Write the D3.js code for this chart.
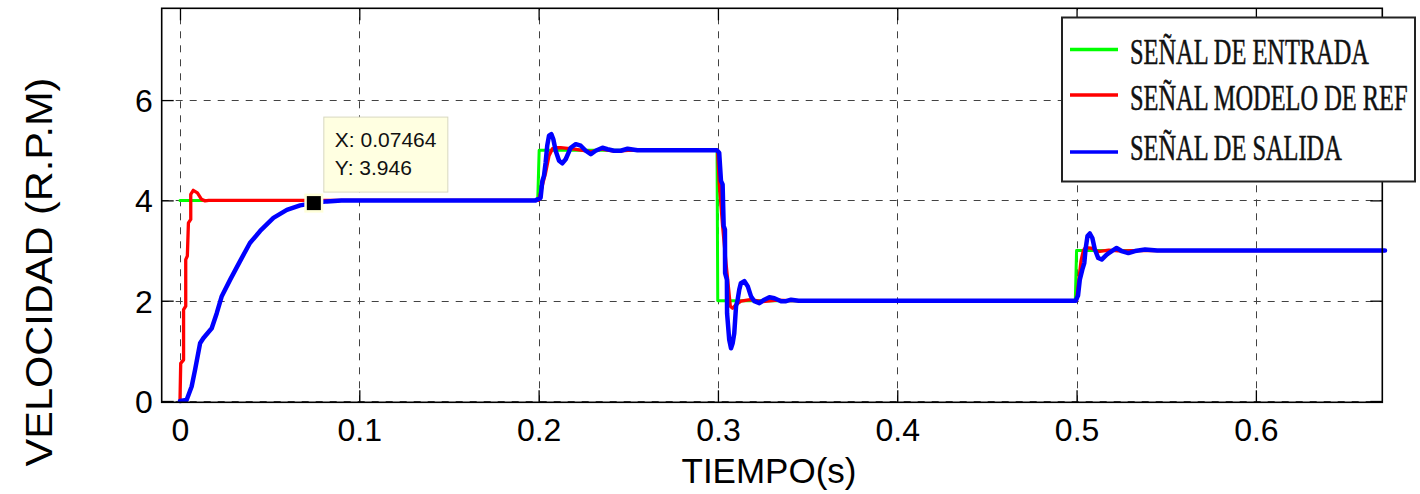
<!DOCTYPE html>
<html>
<head>
<meta charset="utf-8">
<script src="https://cdn.jsdelivr.net/npm/d3@7"></script>
<style>
  html, body { margin: 0; padding: 0; background: #fff; }
  svg { display: block; }
</style>
</head>
<body>
<svg id="chart" width="1420" height="494"></svg>
<script>
// Step response of the MRAC speed loop: input, reference model and plant output
const inputSignal = [
  [0, 4], [0.1995, 4], [0.2003, 5], [0.2995, 5], [0.2999, 2],
  [0.4993, 2], [0.5, 3], [0.672, 3]
];
const referenceSignal = [
  [0, 0], [0.0004, 0.75], [0.002, 0.82], [0.002, 1.82], [0.0032, 1.89], [0.0032, 2.82],
  [0.0041, 2.89], [0.0047, 3.55], [0.006, 3.62], [0.006, 4.12], [0.0074, 4.2], [0.0097, 4.15],
  [0.012, 4.02], [0.014, 3.99], [0.016, 4.0],
  [0.2, 4.0], [0.202, 4.29], [0.2039, 4.55], [0.2058, 4.89], [0.2077, 5.03], [0.21, 5.05],
  [0.2123, 5.05], [0.22, 5.02], [0.229, 4.97], [0.235, 5.02], [0.242, 4.98], [0.25, 5.0],
  [0.2998, 5.0], [0.3007, 4.35], [0.3026, 3.49], [0.3045, 2.75], [0.3058, 2.29], [0.3069, 1.89],
  [0.3082, 1.85], [0.3101, 1.92], [0.3128, 1.99], [0.318, 2.02], [0.325, 1.98], [0.333, 2.01],
  [0.34, 2.0],
  [0.5, 2.0], [0.5012, 2.4], [0.5025, 2.8], [0.5038, 3.0], [0.505, 3.06], [0.508, 3.05],
  [0.512, 2.98], [0.518, 3.01], [0.525, 2.99], [0.53, 3.0], [0.672, 3.0]
];
const outputSignal = [
  [0, 0], [0.0037, 0.02], [0.0065, 0.29], [0.0084, 0.62], [0.0112, 1.15], [0.013, 1.25],
  [0.0177, 1.45], [0.0205, 1.75], [0.0233, 2.09], [0.028, 2.42], [0.0335, 2.79], [0.039, 3.15],
  [0.0447, 3.39], [0.0521, 3.65], [0.0596, 3.81], [0.067, 3.9], [0.07464, 3.946], [0.082, 3.98],
  [0.09, 4.0],
  [0.1983, 4.0], [0.2011, 4.05], [0.2021, 4.39], [0.203, 4.49], [0.2039, 4.75], [0.2048, 5.09],
  [0.2058, 5.29], [0.2071, 5.32], [0.2082, 5.22], [0.2095, 4.99], [0.2114, 4.79], [0.2132, 4.74],
  [0.2151, 4.82], [0.2179, 5.05], [0.2207, 5.12], [0.2235, 5.09], [0.2263, 4.99], [0.2291, 4.92],
  [0.2318, 4.99], [0.2356, 5.05], [0.2384, 5.02], [0.2421, 4.99], [0.2458, 4.99], [0.2496, 5.03],
  [0.2551, 5.0],
  [0.2994, 5.0], [0.3007, 4.95], [0.3017, 4.39], [0.3026, 4.32], [0.3032, 3.49], [0.3039, 3.42],
  [0.304, 2.55], [0.305, 2.42], [0.3051, 1.75], [0.3063, 1.22], [0.3073, 1.05], [0.3082, 1.15],
  [0.3091, 1.35], [0.3101, 1.89], [0.311, 2.02], [0.3119, 2.22], [0.3128, 2.35], [0.3147, 2.39],
  [0.3166, 2.29], [0.3184, 2.09], [0.3203, 1.99], [0.3231, 1.95], [0.3259, 2.02], [0.3287, 2.07],
  [0.3315, 2.05], [0.3352, 1.99], [0.338, 1.99], [0.3408, 2.02], [0.345, 2.0],
  [0.4995, 2.0], [0.5008, 2.1], [0.5018, 2.42], [0.5032, 2.62], [0.5043, 2.75], [0.505, 3.02],
  [0.5061, 3.29], [0.5074, 3.34], [0.5088, 3.25], [0.5102, 3.02], [0.5121, 2.85], [0.514, 2.82],
  [0.5168, 2.92], [0.5196, 2.99], [0.5223, 3.05], [0.5251, 2.99], [0.5289, 2.95], [0.5326, 2.99],
  [0.5382, 3.02], [0.545, 3.0], [0.672, 3.0]
];
const xTicks = [0, 0.1, 0.2, 0.3, 0.4, 0.5, 0.6];
const xTickLabels = ["0", "0.1", "0.2", "0.3", "0.4", "0.5", "0.6"];
const yTicks = [0, 2, 4, 6];
const yTickLabels = ["0", "2", "4", "6"];
const legendLabels = ["SEÑAL DE ENTRADA", "SEÑAL MODELO DE REF", "SEÑAL DE SALIDA"];
const seriesColors = ["#00ff00", "#ff0000", "#0000ff"];
const dataTipPoint = [0.07464, 3.946];
const xLabel = "TIEMPO(s)";
const yLabel = "VELOCIDAD (R.P.M)";

const SANS = "'Liberation Sans', Arial, Helvetica, sans-serif";
const SERIF = "'Liberation Serif', 'Times New Roman', Times, serif";

const svg = d3.select("#chart");
const L = 161.7, R = 1382.3, T = 8.3, B = 402.3;

const x = d3.scaleLinear().domain([-0.0102, 0.6705]).range([L, R]);
const y = d3.scaleLinear().domain([-0.026, 7.83]).range([B, T]);

// background
svg.append("rect").attr("x", L).attr("y", T).attr("width", R - L).attr("height", B - T)
  .attr("fill", "#fff");

// dashed grid
const grid = svg.append("g").attr("stroke", "#222").attr("stroke-width", 1)
  .attr("stroke-dasharray", "7,7").attr("opacity", 0.85);
grid.selectAll("line.v").data(xTicks).join("line")
  .attr("x1", d => Math.round(x(d)) + 0.5).attr("x2", d => Math.round(x(d)) + 0.5)
  .attr("y1", B).attr("y2", T);
grid.selectAll("line.h").data(yTicks).join("line")
  .attr("y1", d => Math.round(y(d)) + 0.5).attr("y2", d => Math.round(y(d)) + 0.5)
  .attr("x1", L).attr("x2", R);

// axes with inward ticks on all four sides
const tickLen = 12;
const axB = d3.axisBottom(x).tickValues(xTicks).tickSizeInner(-tickLen).tickSizeOuter(0)
  .tickFormat((d, i) => xTickLabels[i]).tickPadding(16);
const axT = d3.axisTop(x).tickValues(xTicks).tickSizeInner(-tickLen).tickSizeOuter(0).tickFormat("");
const axL = d3.axisLeft(y).tickValues(yTicks).tickSizeInner(-tickLen).tickSizeOuter(0)
  .tickFormat((d, i) => yTickLabels[i]).tickPadding(9);
const axR = d3.axisRight(y).tickValues(yTicks).tickSizeInner(-tickLen).tickSizeOuter(0).tickFormat("");

function styleAxis(g) {
  g.selectAll("path.domain").remove();
  g.selectAll(".tick line").attr("stroke", "#000").attr("stroke-width", 1.3);
  g.selectAll(".tick text").attr("fill", "#000").attr("font-size", 32)
    .style("font-family", SANS);
}
svg.append("g").attr("transform", `translate(0,${B})`).call(axB).call(styleAxis)
  .selectAll(".tick text").attr("dy", "0.71em");
svg.append("g").attr("transform", `translate(0,${T})`).call(axT).call(styleAxis);
svg.append("g").attr("transform", `translate(${L},0)`).call(axL).call(styleAxis)
  .selectAll(".tick text").attr("dy", "0.36em");
svg.append("g").attr("transform", `translate(${R},0)`).call(axR).call(styleAxis);

// curves
const line = d3.line().x(d => x(d[0])).y(d => y(d[1]));
const series = [
  { data: inputSignal, color: seriesColors[0], w: 3 },
  { data: referenceSignal, color: seriesColors[1], w: 3.3 },
  { data: outputSignal, color: seriesColors[2], w: 4.5 }
];
svg.append("g").selectAll("path").data(series).join("path")
  .attr("d", d => line(d.data)).attr("fill", "none")
  .attr("stroke", d => d.color).attr("stroke-width", d => d.w)
  .attr("stroke-linejoin", "round").attr("stroke-linecap", "round");

// axes box
svg.append("rect").attr("x", L).attr("y", T).attr("width", R - L).attr("height", B - T)
  .attr("fill", "none").attr("stroke", "#000").attr("stroke-width", 1.6);

// data tip marker and label
const mx = x(dataTipPoint[0]), my = y(dataTipPoint[1]);
svg.append("rect").attr("x", mx - 9.5).attr("y", my - 9.5).attr("width", 19).attr("height", 19)
  .attr("fill", "#ffffd8");
svg.append("rect").attr("x", mx - 7).attr("y", my - 7).attr("width", 14).attr("height", 14)
  .attr("fill", "#000");
const tip = svg.append("g").attr("transform", `translate(${mx + 10},${my - 86})`);
tip.append("rect").attr("x", 0).attr("y", 0).attr("width", 124).attr("height", 75)
  .attr("fill", "#ffffe1").attr("stroke", "#d8d8c0").attr("stroke-width", 1);
tip.append("text").attr("x", 11).attr("y", 30).attr("font-size", 21).attr("fill", "#111")
  .style("font-family", SANS).text("X: " + dataTipPoint[0]);
tip.append("text").attr("x", 11).attr("y", 57.5).attr("font-size", 21).attr("fill", "#111")
  .style("font-family", SANS).text("Y: " + dataTipPoint[1]);

// axis titles
svg.append("text").attr("x", 769).attr("y", 483).attr("text-anchor", "middle")
  .attr("font-size", 35).attr("fill", "#000").style("font-family", SANS).text(xLabel);
svg.append("text").attr("transform", "translate(52,272) rotate(-90) scale(1,0.9)")
  .attr("text-anchor", "middle").attr("font-size", 41.5).attr("fill", "#000")
  .style("font-family", SANS).text(yLabel);

// legend
const lg = svg.append("g");
lg.append("rect").attr("x", 1062).attr("y", 17.5).attr("width", 353).attr("height", 164)
  .attr("fill", "#fff").attr("stroke", "#222").attr("stroke-width", 2);
const rowY = [49.5, 95, 152];
const baseY = [63.5, 110, 160];
legendLabels.forEach((lab, i) => {
  lg.append("line").attr("x1", 1070).attr("x2", 1118).attr("y1", rowY[i]).attr("y2", rowY[i])
    .attr("stroke", seriesColors[i]).attr("stroke-width", 3.5);
  lg.append("text").attr("transform", `translate(1130,${baseY[i]}) scale(1,1.45)`)
    .attr("font-size", 24.4).attr("fill", "#111")
    .attr("stroke", "#111").attr("stroke-width", 0.35)
    .style("font-family", SERIF).text(lab);
});
</script>
</body>
</html>
